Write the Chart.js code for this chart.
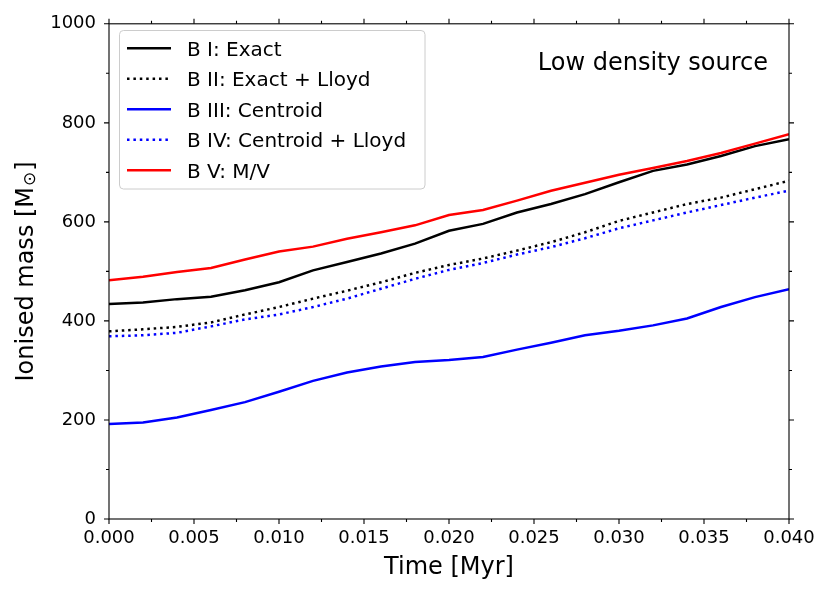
<!DOCTYPE html>
<html>
<head>
<meta charset="utf-8">
<script src="https://cdn.jsdelivr.net/npm/chart.js@4"></script>
<style>
  html, body { margin: 0; padding: 0; background: #ffffff; }
  #wrap { width: 831px; height: 594px; position: relative; }
</style>
</head>
<body>
<div id="wrap"><canvas id="c"></canvas></div>
<script>
// ---- Data ----
const times = [0.000, 0.002, 0.004, 0.006, 0.008, 0.010, 0.012, 0.014, 0.016, 0.018, 0.020,
               0.022, 0.024, 0.026, 0.028, 0.030, 0.032, 0.034, 0.036, 0.038, 0.040];
const seriesLabels = ['B I: Exact', 'B II: Exact + Lloyd', 'B III: Centroid', 'B IV: Centroid + Lloyd', 'B V: M/V'];
const bExact         = [434, 437, 444, 449, 462, 478, 502, 519, 536, 556, 582, 596, 619, 636, 656, 680, 703, 716, 733, 753, 767];
const bExactLloyd    = [379, 383, 388, 397, 413, 428, 445, 461, 478, 497, 513, 526, 542, 559, 579, 602, 619, 636, 649, 666, 683];
const bCentroid      = [192, 195, 205, 220, 236, 257, 279, 296, 308, 317, 321, 327, 342, 356, 371, 380, 391, 405, 428, 448, 464];
const bCentroidLloyd = [369, 371, 376, 389, 403, 413, 428, 445, 465, 485, 503, 517, 534, 549, 567, 587, 603, 619, 634, 649, 663];
const bMV            = [482, 489, 499, 507, 524, 540, 550, 566, 579, 593, 614, 624, 643, 663, 679, 695, 709, 723, 739, 758, 777];
const xTickValues = [0.000, 0.005, 0.010, 0.015, 0.020, 0.025, 0.030, 0.035, 0.040];
const xMinorValues = [0.0025, 0.0075, 0.0125, 0.0175, 0.0225, 0.0275, 0.0325, 0.0375];
const yTickValues = [0, 200, 400, 600, 800, 1000];
const yMinorValues = [100, 300, 500, 700, 900];
const xTitle = 'Time [Myr]';
const yTitleMain = 'Ionised mass [M';
const yTitleSub = '\u2299';
const yTitleEnd = ']';
const annotationText = 'Low density source';

const FONT = "'DejaVu Sans', 'Liberation Sans', sans-serif";

function pts(vals) { return times.map((t, i) => ({ x: t, y: vals[i] })); }

const styles = [
  { color: '#000000', dash: [] },
  { color: '#000000', dash: [2.5, 3.9] },
  { color: '#0000ff', dash: [] },
  { color: '#0000ff', dash: [2.5, 3.9] },
  { color: '#ff0000', dash: [] }
];
const seriesValues = [bExact, bExactLloyd, bCentroid, bCentroidLloyd, bMV];

const datasets = seriesValues.map((vals, i) => ({
  label: seriesLabels[i],
  data: pts(vals),
  borderColor: styles[i].color,
  backgroundColor: styles[i].color,
  borderDash: styles[i].dash,
  borderWidth: 2.5,
  borderCapStyle: 'butt',
  pointRadius: 0,
  tension: 0,
  fill: false,
  order: 4 - i
}));

const framePlugin = {
  id: 'frame',
  afterDraw(chart) {
    const { ctx, chartArea: a, scales: { x, y } } = chart;
    ctx.save();
    ctx.strokeStyle = '#000000';
    ctx.lineWidth = 1.1;
    ctx.setLineDash([]);
    ctx.strokeRect(a.left, a.top, a.right - a.left, a.bottom - a.top);
    const major = 5, minor = 3;
    ctx.beginPath();
    const xt = (v, len) => {
      const px = x.getPixelForValue(v);
      ctx.moveTo(px, a.bottom); ctx.lineTo(px, a.bottom + len);
      ctx.moveTo(px, a.top); ctx.lineTo(px, a.top - len);
    };
    const yt = (v, len) => {
      const py = y.getPixelForValue(v);
      ctx.moveTo(a.left, py); ctx.lineTo(a.left - len, py);
      ctx.moveTo(a.right, py); ctx.lineTo(a.right + len, py);
    };
    xTickValues.forEach(v => xt(v, major));
    xMinorValues.forEach(v => xt(v, minor));
    yTickValues.forEach(v => yt(v, major));
    yMinorValues.forEach(v => yt(v, minor));
    ctx.stroke();

    // y-axis title with subscript sun symbol
    const cy = (a.top + a.bottom) / 2;
    ctx.translate(33, cy);
    ctx.rotate(-Math.PI / 2);
    ctx.fillStyle = '#000000';
    ctx.textBaseline = 'alphabetic';
    ctx.textAlign = 'left';
    const fMain = '24px ' + FONT, fSub = '17px ' + FONT;
    ctx.font = fMain;
    const w1 = ctx.measureText(yTitleMain).width;
    const w3 = ctx.measureText(yTitleEnd).width;
    ctx.font = fSub;
    const w2 = ctx.measureText(yTitleSub).width;
    let sx = -(w1 + w2 + w3 + 2) / 2;
    ctx.font = fMain;
    ctx.fillText(yTitleMain, sx, 0);
    sx += w1 + 1;
    ctx.font = fSub;
    ctx.fillText(yTitleSub, sx, 2);
    sx += w2 + 1;
    ctx.font = fMain;
    ctx.fillText(yTitleEnd, sx, 0);
    ctx.restore();
  }
};

const legendPlugin = {
  id: 'customLegend',
  afterDraw(chart) {
    const { ctx } = chart;
    ctx.save();
    const bx = 119.5, by = 30.5, bw = 305.5, bh = 158.5, r = 4;
    ctx.beginPath();
    ctx.moveTo(bx + r, by);
    ctx.lineTo(bx + bw - r, by);
    ctx.arcTo(bx + bw, by, bx + bw, by + r, r);
    ctx.lineTo(bx + bw, by + bh - r);
    ctx.arcTo(bx + bw, by + bh, bx + bw - r, by + bh, r);
    ctx.lineTo(bx + r, by + bh);
    ctx.arcTo(bx, by + bh, bx, by + bh - r, r);
    ctx.lineTo(bx, by + r);
    ctx.arcTo(bx, by, bx + r, by, r);
    ctx.closePath();
    ctx.fillStyle = 'rgba(255,255,255,0.8)';
    ctx.fill();
    ctx.strokeStyle = '#cccccc';
    ctx.lineWidth = 1;
    ctx.stroke();

    ctx.font = '20px ' + FONT;
    ctx.textBaseline = 'alphabetic';
    ctx.textAlign = 'left';
    chart.data.datasets.forEach((ds, i) => {
      const ry = 48.3 + i * 30.5;
      ctx.beginPath();
      ctx.strokeStyle = ds.borderColor;
      ctx.lineWidth = ds.borderWidth;
      ctx.lineCap = 'butt';
      ctx.setLineDash(ds.borderDash || []);
      ctx.moveTo(127, ry);
      ctx.lineTo(171, ry);
      ctx.stroke();
      ctx.setLineDash([]);
      ctx.fillStyle = '#000000';
      ctx.fillText(ds.label, 187, ry + 7.3);
    });

    // annotation
    ctx.font = '24px ' + FONT;
    ctx.textAlign = 'right';
    ctx.fillStyle = '#000000';
    ctx.fillText(annotationText, 768, 70);
    ctx.restore();
  }
};

new Chart(document.getElementById('c'), {
  type: 'line',
  data: { datasets },
  options: {
    responsive: true,
    maintainAspectRatio: false,
    animation: false,
    events: [],
    layout: { padding: { top: 20, right: 42, bottom: 0, left: 0 } },
    plugins: { legend: { display: false }, tooltip: { enabled: false }, title: { display: false } },
    scales: {
      x: {
        type: 'linear',
        min: 0, max: 0.04,
        grid: { display: false, drawTicks: false },
        border: { display: false },
        afterBuildTicks: s => { s.ticks = xTickValues.map(v => ({ value: v })); },
        afterFit: s => { s.height = 75; },
        ticks: {
          color: '#000000',
          font: { family: FONT, size: 18 },
          padding: 9,
          maxRotation: 0,
          autoSkip: false,
          callback: v => Number(v).toFixed(3)
        },
        title: {
          display: true,
          text: xTitle,
          color: '#000000',
          font: { family: FONT, size: 24 },
          padding: { top: 0, bottom: 12 }
        }
      },
      y: {
        type: 'linear',
        min: 0, max: 1000,
        grid: { display: false, drawTicks: false },
        border: { display: false },
        afterBuildTicks: s => { s.ticks = yTickValues.map(v => ({ value: v })); },
        afterFit: s => { s.width = 109; },
        ticks: {
          color: '#000000',
          font: { family: FONT, size: 18 },
          padding: 13,
          autoSkip: false,
          callback: v => String(v)
        },
        title: { display: false }
      }
    }
  },
  plugins: [framePlugin, legendPlugin]
});
</script>
</body>
</html>
